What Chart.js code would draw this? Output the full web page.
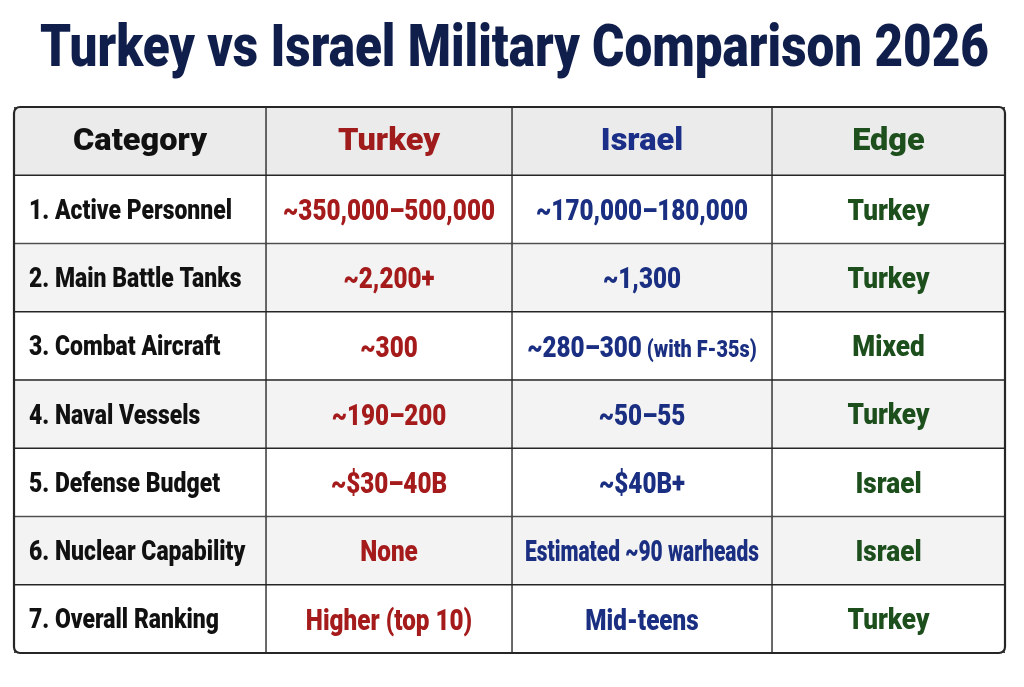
<!DOCTYPE html>
<html>
<head>
<meta charset="utf-8">
<script src="https://cdn.jsdelivr.net/npm/chart.js@4.4.1/dist/chart.umd.min.js"></script>
<style>
  html, body { margin: 0; padding: 0; background: #ffffff; }
  #wrap { width: 1024px; height: 687px; }
</style>
</head>
<body>
<div id="wrap"><canvas id="c" width="1024" height="687"></canvas></div>
<script>
// ---------------- DATA ----------------
const TITLE = 'Turkey vs Israel Military Comparison 2026';
const columnHeaders = ['Category', 'Turkey', 'Israel', 'Edge'];
const categories = [
  '1. Active Personnel',
  '2. Main Battle Tanks',
  '3. Combat Aircraft',
  '4. Naval Vessels',
  '5. Defense Budget',
  '6. Nuclear Capability',
  '7. Overall Ranking'
];
const turkeyValues = [
  '~350,000\u2013500,000',
  '~2,200+',
  '~300',
  '~190\u2013200',
  '~$30\u201340B',
  'None',
  'Higher (top 10)'
];
const israelValues = [
  '~170,000\u2013180,000',
  '~1,300',
  '~280\u2013300',
  '~50\u201355',
  '~$40B+',
  'Estimated ~90 warheads',
  'Mid-teens'
];
const israelNotes = ['', '', '(with F-35s)', '', '', '', ''];
const edgeValues = ['Turkey', 'Turkey', 'Mixed', 'Turkey', 'Israel', 'Israel', 'Turkey'];

// ---------------- LAYOUT / STYLE ----------------
const LAYOUT = {
  colEdges: [0, 252, 498, 758, 991],   // column boundaries in table units
  padding: { left: 14, right: 19, top: 107, bottom: 34 }
};
const FONT = 'Roboto, "Liberation Sans", Arial, sans-serif';
const WEIGHT = '900';
// size in px; sample text + its width in the reference picture -> horizontal condensing factor
const STYLES = {
  title:  { size: 60, sample: 'Turkey vs Israel Military Comparison 2026', sampleW: 949 },
  header: { size: 31, sample: 'Category', sampleW: 134 },
  label:  { size: 27, sample: '1. Active Personnel', sampleW: 203 },
  value:  { size: 30, sample: '~350,000\u2013500,000', sampleW: 212 },
  note:   { size: 24, sample: '(with F-35s)', sampleW: 110 },
  edge:   { size: 29, sample: 'Turkey', sampleW: 82 }
};
const COLORS = {
  title: '#0f1e4b',
  border: '#262626',
  headerFill: '#ebebeb',
  altFill: '#f3f3f3',
  plainFill: '#ffffff',
  headerText: ['#111111', '#a01c1c', '#1b2f88', '#1d501d'],
  valueText: ['#111111', '#a51b1b', '#1a2f82', '#1d4f1d']
};

const rowLabels = ['header'].concat(categories);
const columns = [
  [columnHeaders[0]].concat(categories),
  [columnHeaders[1]].concat(turkeyValues),
  [columnHeaders[2]].concat(israelValues),
  [columnHeaders[3]].concat(edgeValues)
];

const datasets = columns.map((col, ci) => ({
  label: columnHeaders[ci],
  data: rowLabels.map(() => [LAYOUT.colEdges[ci], LAYOUT.colEdges[ci + 1]]),
  backgroundColor: rowLabels.map((_, ri) => ri === 0 ? COLORS.headerFill : (ri % 2 === 0 ? COLORS.altFill : COLORS.plainFill)),
  borderColor: COLORS.border,
  borderWidth: 1,
  borderSkipped: false,
  grouped: false,
  categoryPercentage: 1,
  barPercentage: 1
}));

function setFont(ctx, size) { ctx.font = WEIGHT + ' ' + size + 'px ' + FONT; }
function factor(ctx, st) {
  if (st.f === undefined) {
    ctx.save(); setFont(ctx, st.size);
    st.f = st.sampleW / ctx.measureText(st.sample).width;
    ctx.restore();
  }
  return st.f;
}
function measure(ctx, text, st) {
  ctx.save(); setFont(ctx, st.size);
  const w = ctx.measureText(text).width * factor(ctx, st);
  ctx.restore();
  return w;
}
function drawText(ctx, text, x, baseline, st, color, align, maxW) {
  const sx0 = factor(ctx, st);
  ctx.save();
  setFont(ctx, st.size);
  const raw = ctx.measureText(text).width;
  let s = sx0;
  if (maxW && raw * s > maxW) s = maxW / raw;
  const w = raw * s;
  let startX = x;
  if (align === 'center') startX = x - w / 2;
  else if (align === 'right') startX = x - w;
  ctx.translate(startX, baseline);
  ctx.scale(s, 1);
  ctx.fillStyle = color;
  ctx.textAlign = 'left';
  ctx.textBaseline = 'alphabetic';
  ctx.fillText(text, 0, 0);
  ctx.restore();
  return w;
}
const CAP = 0.711;

const tablePlugin = {
  id: 'tableText',
  afterDatasetsDraw(chart) {
    const ctx = chart.ctx;
    const area = chart.chartArea;
    ctx.save();
    ctx.strokeStyle = COLORS.border;
    ctx.lineWidth = 2.2;
    ctx.beginPath();
    if (ctx.roundRect) ctx.roundRect(area.left, area.top, area.right - area.left, area.bottom - area.top, 6);
    else ctx.rect(area.left, area.top, area.right - area.left, area.bottom - area.top);
    ctx.stroke();
    ctx.restore();

    columns.forEach((col, ci) => {
      const meta = chart.getDatasetMeta(ci);
      col.forEach((text, ri) => {
        const el = meta.data[ri];
        const p = el.getProps(['x', 'base', 'y'], true);
        const left = Math.min(p.x, p.base), right = Math.max(p.x, p.base);
        const cx = (left + right) / 2;
        const cy = p.y;
        const maxW = right - left - 26;
        if (ri === 0) {
          const st = STYLES.header;
          drawText(ctx, text, cx, cy + st.size * CAP / 2 - 2, st, COLORS.headerText[ci], 'center', maxW);
          return;
        }
        if (ci === 0) {
          const st = STYLES.label;
          drawText(ctx, text, left + 15, cy + st.size * CAP / 2, st, COLORS.valueText[0], 'left', maxW);
        } else if (ci === 3) {
          const st = STYLES.edge;
          drawText(ctx, text, cx, cy + st.size * CAP / 2, st, COLORS.valueText[3], 'center', maxW);
        } else {
          const st = STYLES.value;
          const note = ci === 2 ? israelNotes[ri - 1] : '';
          const base = cy + st.size * CAP / 2;
          if (note) {
            const w1 = measure(ctx, text, st);
            const w2 = measure(ctx, note, STYLES.note);
            const gap = 5;
            const start = cx - (w1 + gap + w2) / 2;
            drawText(ctx, text, start, base, st, COLORS.valueText[ci], 'left');
            drawText(ctx, note, start + w1 + gap, base, STYLES.note, COLORS.valueText[ci], 'left');
          } else {
            drawText(ctx, text, cx, base, st, COLORS.valueText[ci], 'center', maxW);
          }
        }
      });
    });
  },
  afterDraw(chart) {
    drawText(chart.ctx, TITLE, 514.5, 66, STYLES.title, COLORS.title, 'center');
  }
};

new Chart(document.getElementById('c'), {
  type: 'bar',
  data: { labels: rowLabels, datasets: datasets },
  options: {
    indexAxis: 'y',
    responsive: false,
    animation: false,
    layout: { padding: LAYOUT.padding },
    plugins: { legend: { display: false }, tooltip: { enabled: false }, title: { display: false } },
    scales: {
      x: { type: 'linear', min: LAYOUT.colEdges[0], max: LAYOUT.colEdges[LAYOUT.colEdges.length - 1], display: false },
      y: { type: 'category', display: false, offset: true }
    }
  },
  plugins: [tablePlugin]
});
</script>
</body>
</html>
